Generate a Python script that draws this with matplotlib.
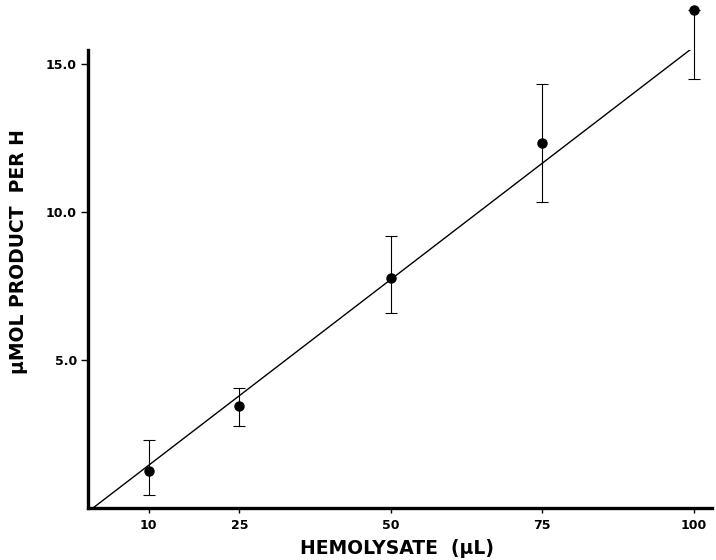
import matplotlib
matplotlib.use("Agg")
import matplotlib.pyplot as plt

plt.rcParams['font.family'] = ['DejaVu Sans']

# hemolysate volume (uL) vs. product formed per hour
volume = [10, 25, 50, 75, 100]
product = [1.28, 3.45, 7.80, 12.34, 16.82]
err_low = [0.83, 0.65, 1.19, 2.00, 2.31]
err_high = [1.04, 0.63, 1.39, 2.01, 0.0]

# regression line end points
fit_x = [0.9, 100]
fit_y = [0.03, 15.58]

fig = plt.figure(figsize=(7.16, 5.6), dpi=100)
ax = fig.add_axes([0.123, 0.092, 0.871, 0.818])

ax.plot(fit_x, fit_y, color='black', lw=1.0)
ax.errorbar(volume, product, yerr=[err_low, err_high], fmt='o', color='black',
            ms=6.5, elinewidth=0.8, capsize=4, capthick=0.8, clip_on=False)

ax.set_xlim(0, 103)
ax.set_ylim(0, 15.47)
ax.set_xticks([10, 25, 50, 75, 100])
ax.set_yticks([5, 10, 15])
ax.set_yticklabels(['5.0', '10.0', '15.0'])

for side in ['top', 'right']:
    ax.spines[side].set_visible(False)
for side in ['left', 'bottom']:
    ax.spines[side].set_linewidth(2.4)

ax.tick_params(axis='y', direction='out', length=5, width=1, pad=3, labelsize=9)
ax.tick_params(axis='x', direction='out', length=3.5, width=1, pad=4, labelsize=9)
for lab in ax.get_xticklabels() + ax.get_yticklabels():
    lab.set_fontweight('bold')

ax.set_xlabel('HEMOLYSATE  (\u00b5L)', fontsize=13.5, fontweight='bold')
ax.set_ylabel('\u00b5MOL PRODUCT  PER H', fontsize=13.5, fontweight='bold')
ax.xaxis.set_label_coords(0.495, -0.067)
ax.yaxis.set_label_coords(-0.097, 0.56)

fig.savefig('out.png', dpi=100)
